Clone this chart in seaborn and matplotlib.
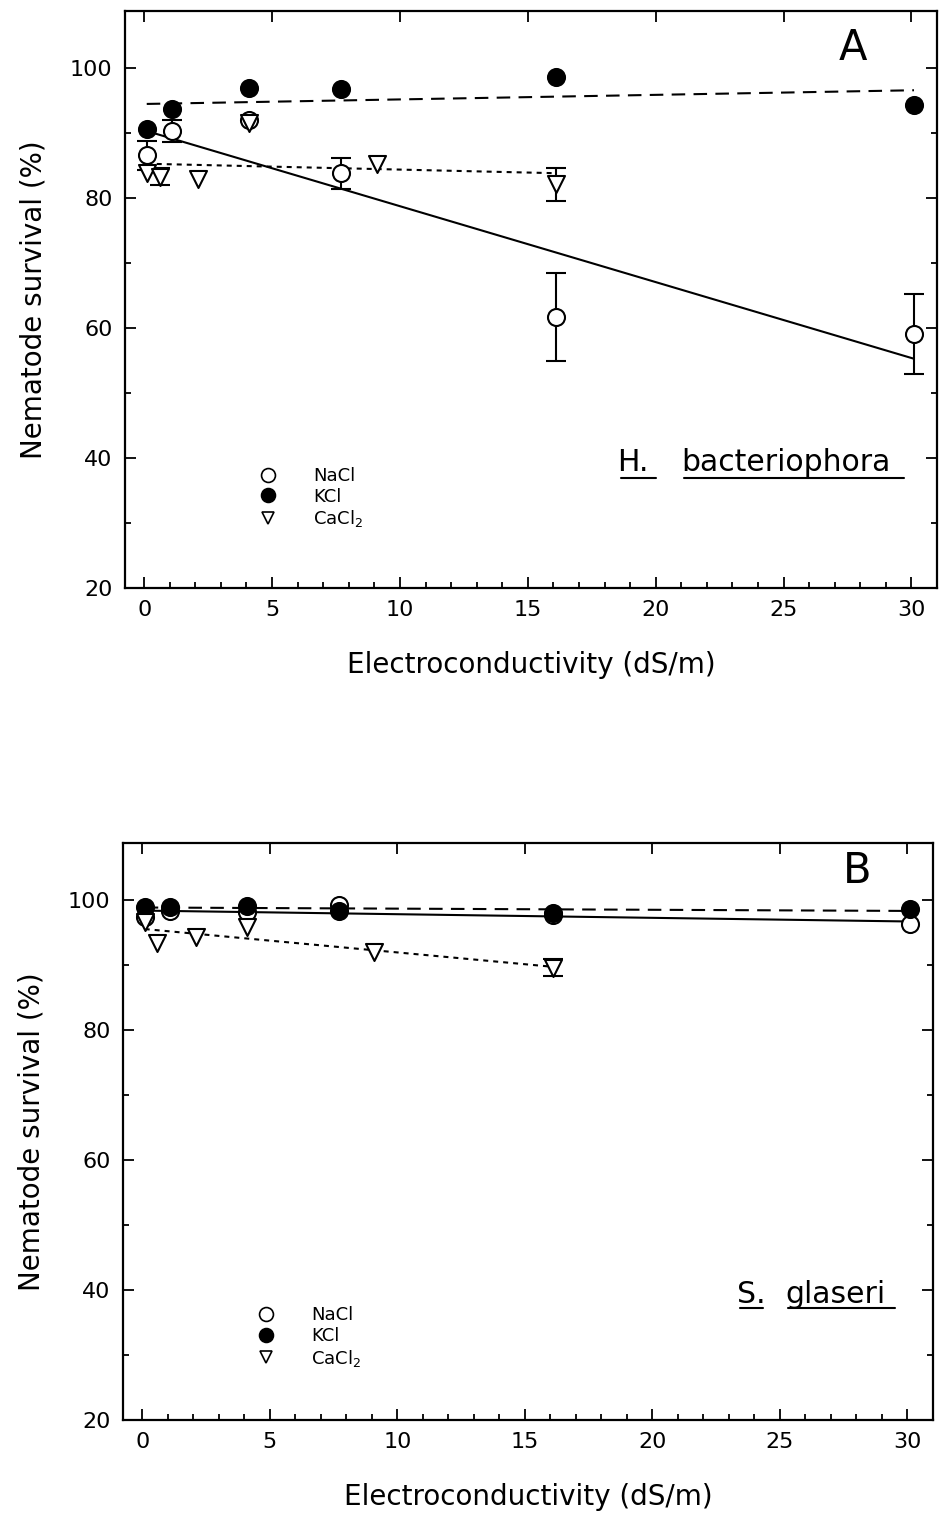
import numpy as np
import matplotlib
matplotlib.use('Agg')
import matplotlib.pyplot as plt
import seaborn as sns
from matplotlib.lines import Line2D
from matplotlib.ticker import MultipleLocator

# electroconductivity (dS/m) of the salt solutions
ec_salt = [0.1, 1.1, 4.1, 7.7, 16.1, 30.1]
ec_cacl2 = [0.1, 0.6, 2.1, 4.1, 9.1, 16.1]

# A: H. bacteriophora survival (%)
hb_nacl = [86.6, 90.3, 92.0, 83.8, 61.7, 59.1]
hb_nacl_err = [2.2, 1.7, 0.0, 2.4, 6.8, 6.2]
hb_kcl = [90.7, 93.7, 97.0, 96.8, 98.6, 94.3]
hb_cacl2 = [83.8, 83.3, 82.9, 91.6, 85.2, 82.1]
hb_cacl2_err = [0.0, 1.3, 0.0, 0.0, 0.0, 2.5]

# B: S. glaseri survival (%)
sg_nacl = [97.4, 98.3, 98.2, 99.2, 97.7, 96.3]
sg_nacl_err = [0.0, 0.0, 0.0, 0.0, 0.0, 0.0]
sg_kcl = [99.0, 99.0, 99.1, 98.4, 98.0, 98.7]
sg_cacl2 = [96.7, 93.4, 94.4, 95.8, 92.0, 89.6]
sg_cacl2_err = [0.0, 0.0, 0.0, 0.0, 0.0, 1.3]

salt_labels = ['NaCl', 'KCl', 'CaCl$_2$']

sns.set_style('ticks')
plt.rcParams['font.family'] = ['DejaVu Sans']
plt.rcParams['mathtext.fontset'] = 'dejavusans'
for key in ['text.color', 'axes.labelcolor', 'xtick.color', 'ytick.color', 'axes.edgecolor']:
    plt.rcParams[key] = 'black'

fig = plt.figure(figsize=(9.4, 15.13), dpi=100)
ax_a = fig.add_axes([125 / 940, 1 - 588 / 1513, 812 / 940, 577 / 1513])
ax_b = fig.add_axes([123 / 940, 1 - 1420 / 1513, 810 / 940, 577 / 1513])

DASH_KCL = (6.5, 4)
DASH_CA = (2.4, 2.4)


def errbars(ax, x, y, err):
    x, y, err = np.array(x), np.array(y), np.array(err)
    keep = err > 0
    if keep.any():
        ax.errorbar(x[keep], y[keep], yerr=err[keep], fmt='none', ecolor='black',
                    elinewidth=1.5, capsize=7, capthick=1.5, zorder=2)


def panel(ax, nacl, nacl_err, kcl, cacl2, cacl2_err, letter, letter_pos,
          genus, species, sp_pos, leg_top):
    # fitted regression lines
    sns.regplot(x=ec_salt, y=nacl, ax=ax, ci=None, scatter=False, color='black',
                line_kws=dict(lw=1.5, zorder=1))
    sns.regplot(x=ec_salt, y=kcl, ax=ax, ci=None, scatter=False, color='black',
                line_kws=dict(lw=1.5, dashes=DASH_KCL, zorder=1))
    sns.regplot(x=ec_cacl2, y=cacl2, ax=ax, ci=None, scatter=False, color='black',
                line_kws=dict(lw=1.5, dashes=DASH_CA, zorder=1))

    errbars(ax, ec_salt, nacl, nacl_err)
    errbars(ax, ec_cacl2, cacl2, cacl2_err)

    sns.scatterplot(x=ec_salt, y=nacl, ax=ax, marker='o', s=150, facecolor='white',
                    edgecolor='black', linewidth=1.5, zorder=3)
    sns.scatterplot(x=ec_salt, y=kcl, ax=ax, marker='o', s=150, color='black',
                    edgecolor='black', linewidth=1.5, zorder=4)
    sns.scatterplot(x=ec_cacl2, y=cacl2, ax=ax, marker='v', s=150, facecolor='white',
                    edgecolor='black', linewidth=1.5, zorder=5)

    ax.set_xlim(-0.75, 31.0)
    ax.set_ylim(20, 108.8)
    ax.xaxis.set_major_locator(MultipleLocator(5))
    ax.xaxis.set_minor_locator(MultipleLocator(1))
    ax.yaxis.set_major_locator(MultipleLocator(20))
    ax.yaxis.set_minor_locator(MultipleLocator(10))
    ax.tick_params(which='both', direction='in', width=1.3, labelsize=16, pad=9,
                   left=True, right=True, top=True, bottom=True)
    ax.tick_params(which='major', length=8)
    ax.tick_params(which='minor', length=4)
    ax.tick_params(axis='x', which='minor', top=False)
    for sp in ax.spines.values():
        sp.set_linewidth(1.6)
        sp.set_visible(True)

    ax.set_xlabel('Electroconductivity (dS/m)', fontsize=20, labelpad=22)
    ax.set_ylabel('Nematode survival (%)', fontsize=20, labelpad=16)

    ax.text(letter_pos[0], letter_pos[1], letter, transform=ax.transAxes, fontsize=30,
            ha='center', va='center')

    # underlined species name
    gx, sx, ty, uy, gw, sw = sp_pos
    ax.text(gx, ty, genus, fontsize=21.5, ha='left', va='center')
    ax.text(sx, ty, species, fontsize=21.5, ha='left', va='center')
    ax.plot([gx + 0.15, gx + 0.15 + gw], [uy, uy], color='black', lw=1.5)
    ax.plot([sx + 0.1, sx + 0.1 + sw], [uy, uy], color='black', lw=1.5)

    handles = [
        Line2D([], [], ls='none', marker='o', ms=10, mfc='white', mec='black', mew=1.2),
        Line2D([], [], ls='none', marker='o', ms=10, mfc='black', mec='black', mew=1.2),
        Line2D([], [], ls='none', marker='v', ms=9, mfc='white', mec='black', mew=1.2),
    ]
    ax.legend(handles, salt_labels, loc='upper left', bbox_to_anchor=(0.165, leg_top),
              frameon=False, fontsize=13, handlelength=1.0, handletextpad=2.0,
              labelspacing=0.15, borderpad=0, borderaxespad=0)


panel(ax_a, hb_nacl, hb_nacl_err, hb_kcl, hb_cacl2, hb_cacl2_err, 'A', (0.897, 0.936),
      'H.', 'bacteriophora', (18.5, 21.0, 39.3, 36.9, 1.35, 8.6), 0.21)
panel(ax_b, sg_nacl, sg_nacl_err, sg_kcl, sg_cacl2, sg_cacl2_err, 'B', (0.907, 0.951),
      'S.', 'glaseri', (23.3, 25.2, 39.3, 37.2, 0.9, 4.2), 0.197)

fig.savefig('out.png', dpi=100)
